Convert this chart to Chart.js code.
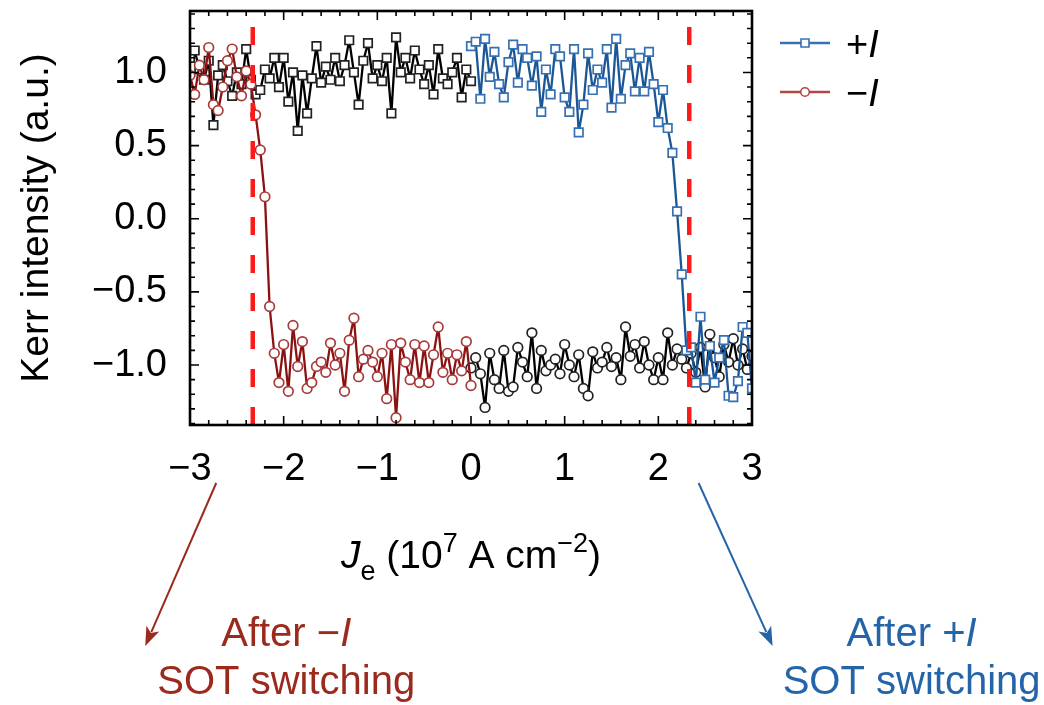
<!DOCTYPE html>
<html>
<head>
<meta charset="utf-8">
<script src="https://cdn.jsdelivr.net/npm/chart.js@4"></script>
<style>
  html, body { margin: 0; padding: 0; background: #fff; }
  #wrap { width: 1044px; height: 705px; position: relative; }
</style>
</head>
<body>
<div id="wrap"><canvas id="kerr"></canvas></div>
<script>
// current density grids (10^7 A cm^-2)
var negJ = [-3.00,-2.95,-2.90,-2.85,-2.80,-2.75,-2.70,-2.65,-2.60,-2.55,
            -2.50,-2.45,-2.40,-2.35,-2.30,-2.25,-2.20,-2.15,-2.10,-2.05,
            -2.00,-1.95,-1.90,-1.85,-1.80,-1.75,-1.70,-1.65,-1.60,-1.55,
            -1.50,-1.45,-1.40,-1.35,-1.30,-1.25,-1.20,-1.15,-1.10,-1.05,
            -1.00,-0.95,-0.90,-0.85,-0.80,-0.75,-0.70,-0.65,-0.60,-0.55,
            -0.50,-0.45,-0.40,-0.35,-0.30,-0.25,-0.20,-0.15,-0.10,-0.05,
             0.00];
var posJ = [0.00,0.05,0.10,0.15,0.20,0.25,0.30,0.35,0.40,0.45,
            0.50,0.55,0.60,0.65,0.70,0.75,0.80,0.85,0.90,0.95,
            1.00,1.05,1.10,1.15,1.20,1.25,1.30,1.35,1.40,1.45,
            1.50,1.55,1.60,1.65,1.70,1.75,1.80,1.85,1.90,1.95,
            2.00,2.05,2.10,2.15,2.20,2.25,2.30,2.35,2.40,2.45,
            2.50,2.55,2.60,2.65,2.70,2.75,2.80,2.85,2.90,2.95,
            3.00];

// +I sweep, squares: black part on negJ, blue part on posJ
var plusBlack = [1.10,1.15,1.02,0.95,1.08,0.64,0.98,1.05,0.94,0.84,
                 1.00,0.92,1.16,0.95,0.85,0.88,1.02,0.96,1.10,0.90,
                 1.10,0.80,1.00,0.60,0.98,0.72,0.96,1.18,0.93,1.04,
                 0.95,1.10,0.94,1.05,1.22,1.00,0.78,1.08,1.20,0.96,
                 1.05,0.94,1.10,0.72,1.24,1.00,1.10,0.96,1.15,1.02,
                 0.92,1.05,0.85,1.16,0.96,0.92,1.00,1.10,0.83,1.02,
                 0.94];
var plusBlue = [1.18,1.21,0.82,1.23,0.97,1.14,0.92,0.83,1.07,1.19,
                0.93,1.16,1.10,0.91,1.11,0.73,1.02,0.85,1.16,1.11,
                0.83,0.73,1.16,0.59,0.78,1.13,0.88,1.02,0.93,1.16,
                0.76,1.23,0.82,1.05,1.13,0.87,1.10,0.87,1.14,0.92,
                0.66,0.88,0.62,0.45,0.05,-0.38,-0.90,-0.88,-1.12,-0.67,
                -1.10,-0.87,-1.12,-0.95,-0.83,-1.21,-1.22,-1.11,-0.74,-0.78,
                -1.16];

// -I sweep, circles: red part on negJ, black part on posJ
var minusRed = [0.98,0.85,1.05,0.95,1.17,0.78,0.74,0.90,1.08,1.16,
                0.97,0.84,1.01,0.92,0.71,0.47,0.15,-0.60,-0.92,-1.12,
                -0.86,-1.18,-0.73,-1.01,-0.84,-1.16,-1.12,-1.01,-0.98,-1.05,
                -0.85,-1.00,-0.92,-1.18,-0.83,-0.68,-1.08,-0.96,-0.90,-0.98,
                -1.08,-0.92,-1.23,-0.86,-1.36,-0.85,-0.98,-1.10,-0.86,-1.12,
                -0.87,-1.12,-0.93,-0.74,-1.05,-0.92,-1.10,-0.93,-1.04,-0.84,
                -1.14];
var minusBlack = [-1.02,-0.95,-1.06,-1.29,-0.92,-1.10,-1.16,-0.90,-1.18,-1.15,
                  -0.88,-0.98,-1.08,-0.78,-1.16,-0.90,-1.04,-1.00,-0.96,-1.06,
                  -0.86,-1.00,-1.08,-0.93,-1.16,-1.21,-0.91,-1.02,-0.98,-0.88,
                  -1.01,-0.95,-1.10,-0.74,-0.94,-0.86,-1.02,-0.84,-1.00,-1.10,
                  -0.95,-1.10,-0.78,-1.00,-0.89,-0.96,-1.02,-0.92,-1.05,-0.88,
                  -1.15,-0.79,-0.95,-1.08,-0.86,-0.98,-0.82,-1.00,-0.89,-1.03,
                  -0.94];

// critical switching current densities (red dashed lines)
var switchJ = [-2.33, 2.33];
var xLim = [-3, 3];
var yLim = [-1.41, 1.42];

var FONT = "'Liberation Sans', Arial, Helvetica, sans-serif";
var BLUE = '#1b5696', BLUE_PT = '#3670b3';
var RED = '#8c1212', RED_PT = '#a83a3a';

function pts(xs, ys) {
  return xs.map(function (x, i) { return {x: x, y: ys[i]}; });
}
function minus(v) {
  return v < 0 ? '\u2212' + Math.abs(v) : String(v);
}

var datasets = [];
switchJ.forEach(function (s) {
  datasets.push({
    data: [{x: s, y: yLim[0]}, {x: s, y: yLim[1]}],
    borderColor: '#ff1a1a', borderWidth: 4.5, borderDash: [18, 20],
    pointRadius: 0, clip: false
  });
});
datasets.push({
  label: '+I', data: pts(posJ, plusBlue),
  borderColor: BLUE, borderWidth: 2.3, borderJoinStyle: 'round', pointStyle: 'rect', pointRadius: 6,
  pointBorderColor: BLUE_PT, pointBackgroundColor: '#fff', pointBorderWidth: 1.7
});
datasets.push({
  label: '-I', data: pts(negJ, minusRed),
  borderColor: RED, borderWidth: 2.3, borderJoinStyle: 'round', pointStyle: 'circle', pointRadius: 4.8,
  pointBorderColor: RED_PT, pointBackgroundColor: '#fff', pointBorderWidth: 1.7
});
datasets.push({
  data: pts(negJ, plusBlack),
  borderColor: '#000', borderWidth: 2.3, borderJoinStyle: 'round', pointStyle: 'rect', pointRadius: 6,
  pointBorderColor: '#222', pointBackgroundColor: '#fff', pointBorderWidth: 1.7
});
datasets.push({
  data: pts(posJ, minusBlack),
  borderColor: '#000', borderWidth: 2.3, borderJoinStyle: 'round', pointStyle: 'circle', pointRadius: 4.8,
  pointBorderColor: '#222', pointBackgroundColor: '#fff', pointBorderWidth: 1.7
});

// frame with inward minor/major ticks on all four sides
var framePlugin = {
  id: 'frame',
  afterDatasetsDraw: function (chart) {
    var ctx = chart.ctx, a = chart.chartArea, x = chart.scales.x, y = chart.scales.y;
    ctx.save();
    ctx.strokeStyle = '#000';
    ctx.lineWidth = 1.6;
    ctx.beginPath();
    for (var i = 0; i <= 30; i++) {
      var px = x.getPixelForValue(xLim[0] + i * 0.2);
      var len = i % 5 === 0 ? 9 : 5;
      ctx.moveTo(px, a.bottom); ctx.lineTo(px, a.bottom - len);
      ctx.moveTo(px, a.top); ctx.lineTo(px, a.top + len);
    }
    for (var k = -14; k <= 14; k++) {
      var py = y.getPixelForValue(k / 10);
      var l2 = k % 5 === 0 ? 9 : 5;
      ctx.moveTo(a.left, py); ctx.lineTo(a.left + l2, py);
      ctx.moveTo(a.right, py); ctx.lineTo(a.right - l2, py);
    }
    ctx.stroke();
    ctx.lineWidth = 2.6;
    ctx.strokeRect(a.left, a.top, a.right - a.left, a.bottom - a.top);
    ctx.restore();
  }
};

function drawRuns(ctx, runs, cx, baseY, align) {
  var w = 0;
  runs.forEach(function (r) {
    ctx.font = (r.italic ? 'italic ' : '') + r.size + 'px ' + FONT;
    r.w = ctx.measureText(r.t).width;
    w += r.w;
  });
  var x0 = align === 'left' ? cx : cx - w / 2;
  ctx.textAlign = 'left';
  ctx.textBaseline = 'alphabetic';
  runs.forEach(function (r) {
    ctx.font = (r.italic ? 'italic ' : '') + r.size + 'px ' + FONT;
    ctx.fillText(r.t, x0, baseY + (r.dy || 0));
    x0 += r.w;
  });
}

function arrow(ctx, x1, y1, x2, y2, color) {
  var ang = Math.atan2(y2 - y1, x2 - x1), hl = 19, hw = 7;
  ctx.save();
  ctx.strokeStyle = color; ctx.fillStyle = color; ctx.lineWidth = 2;
  ctx.beginPath();
  ctx.moveTo(x1, y1);
  ctx.lineTo(x2 - Math.cos(ang) * hl * 0.8, y2 - Math.sin(ang) * hl * 0.8);
  ctx.stroke();
  ctx.beginPath();
  ctx.moveTo(x2, y2);
  ctx.lineTo(x2 - Math.cos(ang) * hl - Math.sin(ang) * hw, y2 - Math.sin(ang) * hl + Math.cos(ang) * hw);
  ctx.lineTo(x2 - Math.cos(ang) * hl * 0.75, y2 - Math.sin(ang) * hl * 0.75);
  ctx.lineTo(x2 - Math.cos(ang) * hl + Math.sin(ang) * hw, y2 - Math.sin(ang) * hl - Math.cos(ang) * hw);
  ctx.closePath();
  ctx.fill();
  ctx.restore();
}

// x title with sub/superscripts, legend, and the two annotations
var extrasPlugin = {
  id: 'extras',
  afterDraw: function (chart) {
    var ctx = chart.ctx, a = chart.chartArea, x = chart.scales.x;
    var cx = (a.left + a.right) / 2;
    ctx.save();
    ctx.fillStyle = '#000';
    drawRuns(ctx, [
      {t: 'J', size: 39, italic: true},
      {t: 'e', size: 27, dy: 12},
      {t: ' (10', size: 39},
      {t: '7', size: 27, dy: -16},
      {t: ' A cm', size: 39},
      {t: '\u22122', size: 27, dy: -16},
      {t: ')', size: 39}
    ], cx, a.bottom + 143);

    // legend
    var lx = a.right + 28, rows = [
      {y: a.top + 32, line: '#3a70b4', style: 'rect', sign: '+'},
      {y: a.top + 81, line: '#b84444', style: 'circle', sign: '\u2212'}
    ];
    rows.forEach(function (r) {
      ctx.strokeStyle = r.line; ctx.lineWidth = 2.5;
      ctx.beginPath(); ctx.moveTo(lx, r.y); ctx.lineTo(lx + 50, r.y); ctx.stroke();
      ctx.fillStyle = '#fff'; ctx.lineWidth = 1.6;
      ctx.beginPath();
      if (r.style === 'rect') ctx.rect(lx + 21, r.y - 4, 8, 8);
      else ctx.arc(lx + 25, r.y, 4.3, 0, Math.PI * 2);
      ctx.fill(); ctx.stroke();
      ctx.fillStyle = '#000';
      drawRuns(ctx, [{t: r.sign, size: 38}, {t: 'I', size: 38, italic: true}], lx + 66, r.y + 14, 'left');
    });

    // annotations
    var red = '#9b2a1c', blue = '#2464a8';
    var rx = x.getPixelForValue(-2.72), bx = x.getPixelForValue(2.43);
    arrow(ctx, rx, a.bottom + 58, rx - 71, a.bottom + 221, red);
    arrow(ctx, bx, a.bottom + 58, bx + 74, a.bottom + 221, blue);
    ctx.fillStyle = red;
    drawRuns(ctx, [{t: 'After \u2212', size: 40}, {t: 'I', size: 40, italic: true}], rx + 70, a.bottom + 221);
    drawRuns(ctx, [{t: 'SOT switching', size: 40}], rx + 70, a.bottom + 269);
    ctx.fillStyle = blue;
    drawRuns(ctx, [{t: 'After +', size: 40}, {t: 'I', size: 40, italic: true}], bx + 213, a.bottom + 221);
    drawRuns(ctx, [{t: 'SOT switching', size: 40}], bx + 213, a.bottom + 269);
    ctx.restore();
  }
};

new Chart(document.getElementById('kerr'), {
  type: 'line',
  data: {datasets: datasets},
  options: {
    responsive: true,
    maintainAspectRatio: false,
    animation: false,
    devicePixelRatio: 1,
    layout: {padding: {left: 0, top: 11, right: 292, bottom: 0}},
    plugins: {legend: {display: false}, tooltip: {enabled: false}},
    scales: {
      x: {
        type: 'linear', min: xLim[0], max: xLim[1],
        grid: {display: false, drawTicks: false}, border: {display: false},
        ticks: {stepSize: 1, padding: 22, color: '#000', maxRotation: 0,
                font: {size: 38, family: FONT}, callback: function (v) { return minus(v); }},
        afterFit: function (s) {
          s.height = 280;
          s.paddingLeft = 0; s.paddingRight = 0;
        }
      },
      y: {
        min: yLim[0], max: yLim[1],
        grid: {display: false, drawTicks: false}, border: {display: false},
        ticks: {stepSize: 0.5, includeBounds: false, padding: 23, color: '#000',
                font: {size: 38, family: FONT},
                callback: function (v) {
                  if (Math.abs(v) < 1e-9) return '0.0';
                  return (v < 0 ? '\u2212' : '') + Math.abs(v).toFixed(1);
                }},
        title: {display: true, text: 'Kerr intensity (a.u.)', color: '#000',
                font: {size: 39, family: FONT}, padding: {top: 14, bottom: 0}},
        afterFit: function (s) {
          s.width = 190;
          s.paddingTop = 0; s.paddingBottom = 0;
        }
      }
    }
  },
  plugins: [framePlugin, extrasPlugin]
});
</script>
</body>
</html>
